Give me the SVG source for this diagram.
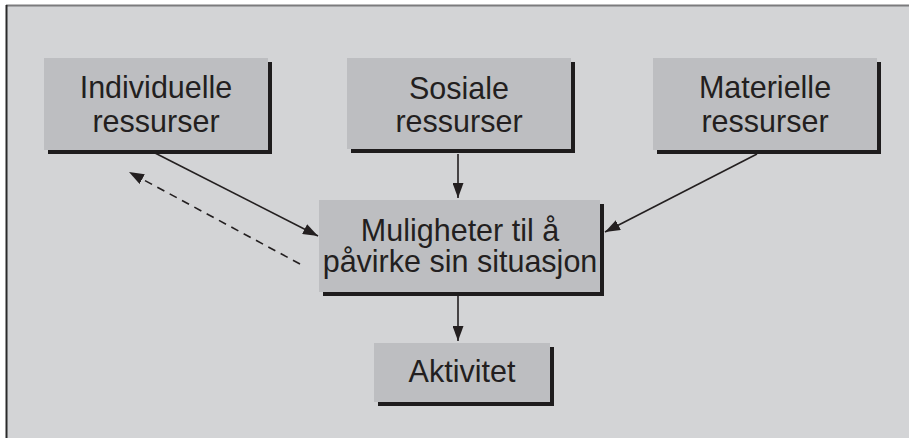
<svg xmlns="http://www.w3.org/2000/svg" width="910" height="438" viewBox="0 0 910 438">
<defs>
<style>
.bg{fill:#d3d4d6}
.box{fill:#bdbec1}
.sh{fill:#1e1c1d}
.t{font-family:"Liberation Sans",Arial,sans-serif;font-size:30.5px;fill:#231f20;text-anchor:middle}
.c{stroke:#231f20;stroke-width:1.6;fill:none}
.d{stroke-dasharray:8 6}
</style>
<marker id="ah" viewBox="0 0 15 11" refX="15" refY="5.5" markerWidth="15" markerHeight="11" markerUnits="userSpaceOnUse" orient="auto">
<path d="M0,0 L15,5.5 L0,11 Z" fill="#231f20"/>
</marker>
</defs>
<rect x="0" y="0" width="910" height="438" fill="#ffffff"/>
<rect class="bg" x="6" y="5" width="903" height="433"/>
<line x1="6" y1="5.5" x2="909" y2="5.5" stroke="#7b7b7d" stroke-width="2"/>
<line x1="6.5" y1="5" x2="6.5" y2="438" stroke="#2a2a2a" stroke-width="2"/>

<g id="connectors">
<line class="c" x1="458" y1="154" x2="458" y2="198" marker-end="url(#ah)"/>
<line class="c" x1="458" y1="296" x2="458" y2="341" marker-end="url(#ah)"/>
<line class="c" x1="155" y1="153" x2="318" y2="236" marker-end="url(#ah)"/>
<line class="c" x1="757" y1="154" x2="605" y2="232" marker-end="url(#ah)"/>
<line class="c d" x1="300" y1="264" x2="129" y2="172" marker-end="url(#ah)"/>
</g>

<g id="individuelle">
<rect class="sh" x="48" y="62" width="224" height="92"/>
<rect class="box" x="44" y="58" width="224" height="92"/>
<text class="t" x="156" y="98">Individuelle</text>
<text class="t" x="156" y="132">ressurser</text>
</g>

<g id="sosiale">
<rect class="sh" x="351" y="62" width="224" height="91"/>
<rect class="box" x="347" y="58" width="224" height="91"/>
<text class="t" x="459" y="99">Sosiale</text>
<text class="t" x="459" y="132">ressurser</text>
</g>

<g id="materielle">
<rect class="sh" x="657" y="62" width="224" height="92"/>
<rect class="box" x="653" y="58" width="224" height="92"/>
<text class="t" x="765" y="98">Materielle</text>
<text class="t" x="765" y="132">ressurser</text>
</g>

<g id="muligheter">
<rect class="sh" x="323" y="204" width="281" height="92"/>
<rect class="box" x="319" y="200" width="281" height="92"/>
<text class="t" x="460" y="241">Muligheter til å</text>
<text class="t" x="460" y="272">påvirke sin situasjon</text>
</g>

<g id="aktivitet">
<rect class="sh" x="378" y="347" width="176" height="59"/>
<rect class="box" x="374" y="343" width="176" height="59"/>
<text class="t" x="462" y="382">Aktivitet</text>
</g>
</svg>
